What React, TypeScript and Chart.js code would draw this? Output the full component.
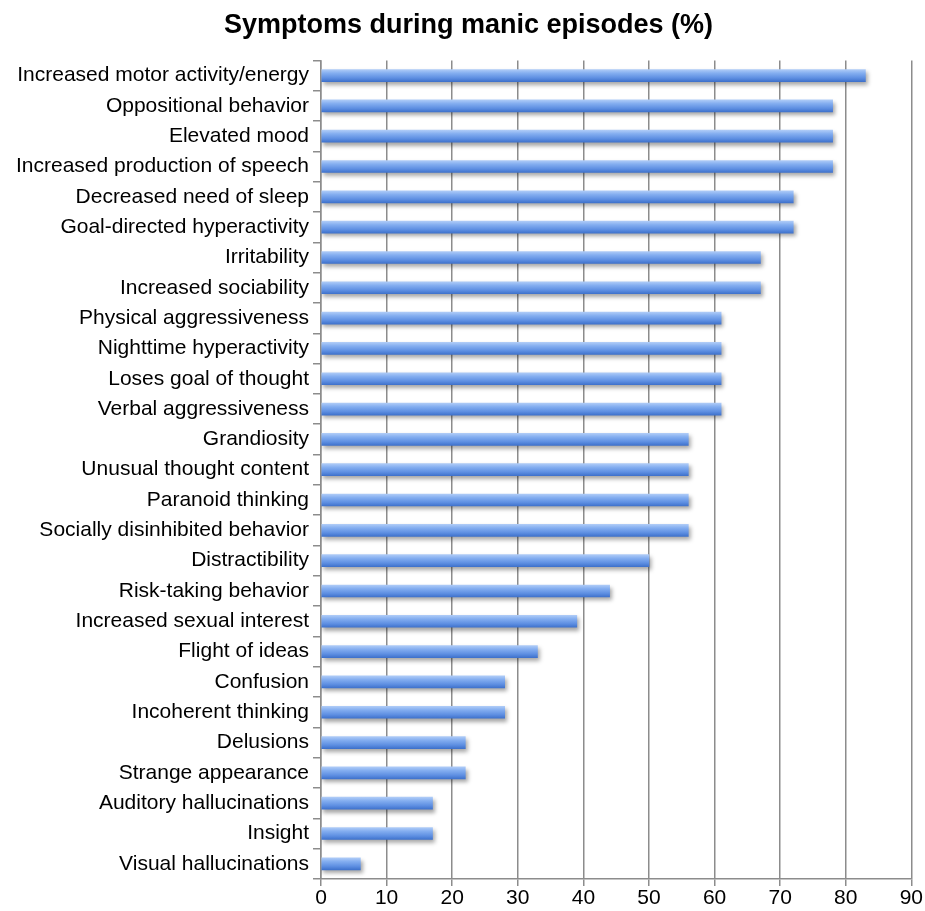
import React, { useEffect, useRef } from "react";
import { Chart, registerables } from "chart.js";

Chart.register(...registerables);

const categories = [
  "Increased motor activity/energy",
  "Oppositional behavior",
  "Elevated mood",
  "Increased production of speech",
  "Decreased need of sleep",
  "Goal-directed hyperactivity",
  "Irritability",
  "Increased sociability",
  "Physical aggressiveness",
  "Nighttime hyperactivity",
  "Loses goal of thought",
  "Verbal aggressiveness",
  "Grandiosity",
  "Unusual thought content",
  "Paranoid thinking",
  "Socially disinhibited behavior",
  "Distractibility",
  "Risk-taking behavior",
  "Increased sexual interest",
  "Flight of ideas",
  "Confusion",
  "Incoherent thinking",
  "Delusions",
  "Strange appearance",
  "Auditory hallucinations",
  "Insight",
  "Visual hallucinations",
];

const values = [83, 78, 78, 78, 72, 72, 67, 67, 61, 61, 61, 61, 56, 56, 56, 56, 50, 44, 39, 33, 28, 28, 22, 22, 17, 17, 6];

const titleText = "Symptoms during manic episodes (%)";
const xMin = 0;
const xMax = 90;
const xStep = 10;

const BAR_T = 12;
const FONT = "'Liberation Sans', Arial, Helvetica, sans-serif";

export default function App() {
  const ref = useRef<HTMLCanvasElement>(null);
  useEffect(() => {
    const canvas = ref.current;
    if (!canvas) return;
    const shadowPlugin = {
      id: "barShadow",
      beforeDatasetDraw(chart: any) {
        const c = chart.ctx;
        c.save();
        c.shadowColor = "rgba(0,0,0,0.35)";
        c.shadowBlur = 4;
        c.shadowOffsetX = 2;
        c.shadowOffsetY = 3;
      },
      afterDatasetDraw(chart: any) {
        chart.ctx.restore();
      },
    };
    const chart = new Chart(canvas, {
      type: "bar",
      data: {
        labels: categories,
        datasets: [
          {
            data: values,
            barThickness: BAR_T,
            borderWidth: 0,
            backgroundColor: (context: any) => {
              const ch = context.chart;
              const ys = ch.scales?.y;
              if (!ys || context.dataIndex === undefined) return "#6d9be8";
              const yc = ys.getPixelForValue(context.dataIndex);
              if (!Number.isFinite(yc)) return "#6d9be8";
              const g = ch.ctx.createLinearGradient(0, yc - BAR_T / 2, 0, yc + BAR_T / 2);
              g.addColorStop(0, "#aecbf7");
              g.addColorStop(0.3, "#84aef0");
              g.addColorStop(0.7, "#5e8fe2");
              g.addColorStop(1, "#3f72cc");
              return g;
            },
          },
        ],
      },
      options: {
        indexAxis: "y",
        animation: false,
        responsive: true,
        maintainAspectRatio: false,
        layout: { padding: { left: 12, right: 0, top: 0, bottom: 0 } },
        plugins: {
          legend: { display: false },
          tooltip: { enabled: false },
          title: {
            display: true,
            text: titleText,
            color: "#000",
            font: { family: FONT, size: 27, weight: "bold", lineHeight: 1.2 },
            padding: { top: 9, bottom: 19 },
          },
        },
        scales: {
          x: {
            min: xMin,
            max: xMax,
            ticks: {
              stepSize: xStep,
              color: "#000",
              font: { family: FONT, size: 21, lineHeight: 1.0 },
              padding: 2,
            },
            grid: {
              color: "#8c8c8c",
              lineWidth: 1.5,
              tickLength: 7,
              drawTicks: true,
            },
            border: { color: "#8c8c8c", width: 1.5 },
          },
          y: {
            ticks: {
              color: "#000",
              font: { family: FONT, size: 21 },
              padding: 4,
              autoSkip: false,
            },
            grid: {
              drawOnChartArea: false,
              drawTicks: true,
              tickLength: 8,
              color: "#8c8c8c",
              lineWidth: 1.5,
              offset: true,
            },
            border: { color: "#8c8c8c", width: 1.5 },
          },
        },
      },
      plugins: [shadowPlugin],
    });
    chart.update();
    return () => chart.destroy();
  }, []);
  return (
    <div style={{ position: "fixed", left: 0, top: 0, width: 925, height: 911, background: "#fff" }}>
      <canvas ref={ref} />
    </div>
  );
}
